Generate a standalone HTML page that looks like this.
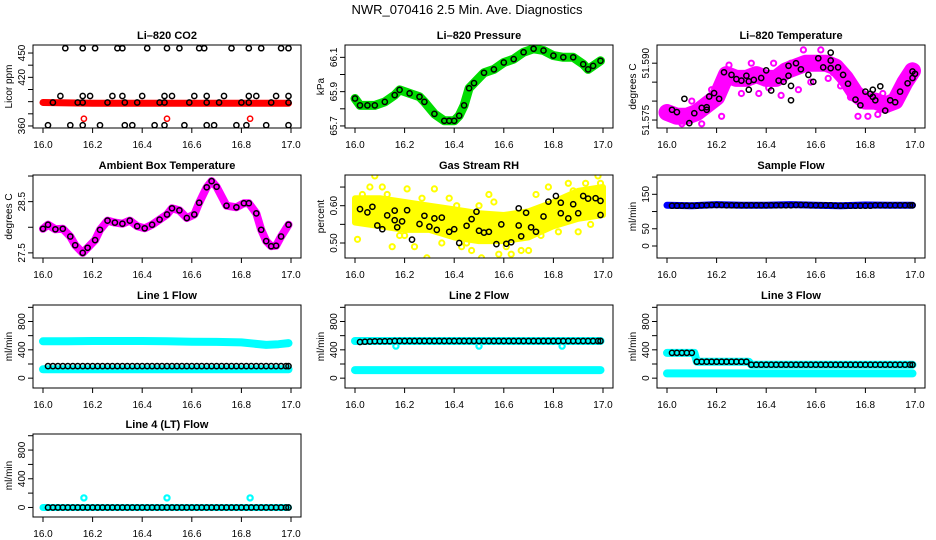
<!DOCTYPE html>
<html><head><meta charset="utf-8">
<style>
html,body{margin:0;padding:0;background:#fff;}
svg{display:block;}
text{font-family:"Liberation Sans",Arial,sans-serif;fill:#000;}
</style></head>
<body>
<svg id="chart" width="936" height="540" viewBox="0 0 936 540" xmlns="http://www.w3.org/2000/svg">
<text x="467" y="14" font-size="13" text-anchor="middle">NWR_070416  2.5 Min. Ave. Diagnostics</text>
</svg>
<script>
// ---------- data ----------
const xTicks = [16.0,16.2,16.4,16.6,16.8,17.0];
const xTickLabels = ["16.0","16.2","16.4","16.6","16.8","17.0"];
const t50 = [16.02,16.04,16.06,16.08,16.10,16.12,16.14,16.16,16.18,16.20,16.22,16.24,16.26,16.28,16.30,16.32,16.34,16.36,16.38,16.40,16.42,16.44,16.46,16.48,16.50,16.52,16.54,16.56,16.58,16.60,16.62,16.64,16.66,16.68,16.70,16.72,16.74,16.76,16.78,16.80,16.82,16.84,16.86,16.88,16.90,16.92,16.94,16.96,16.98,16.99];

// CO2
const co2BandT = [16.0,16.1,16.2,16.3,16.4,16.5,16.6,16.7,16.8,16.9,16.99];
const co2BandV = [389,388.5,388,388,388,388,388,388,388,388,388];
const co2RedT = [16.165,16.50,16.835];
const co2RedV = [369,369,369];
const co2BlkT = [16.09,16.16,16.21,16.30,16.32,16.42,16.50,16.55,16.63,16.65,16.76,16.83,16.88,16.96,16.99,
 16.07,16.16,16.19,16.28,16.32,16.40,16.49,16.52,16.61,16.66,16.73,16.83,16.86,16.94,16.99,
 16.04,16.14,16.16,16.26,16.33,16.38,16.47,16.49,16.59,16.66,16.71,16.80,16.83,16.92,16.99,
 16.02,16.11,16.16,16.23,16.33,16.36,16.45,16.49,16.57,16.66,16.69,16.78,16.82,16.90,16.99];
const co2BlkV = [456,456,456,456,456,456,456,456,456,456,456,456,456,456,456,
 397,397,397,397,397,397,397,397,397,397,397,397,397,397,397,
 389,389,389,389,389,389,389,389,389,389,389,389,389,389,389,
 361,361,361,361,361,361,361,361,361,361,361,361,361,361,361];

// Pressure
const presT = [16.00,16.02,16.05,16.08,16.12,16.16,16.18,16.22,16.26,16.28,16.32,16.36,16.38,16.40,16.42,16.44,16.46,16.48,16.52,16.56,16.60,16.64,16.68,16.72,16.76,16.80,16.84,16.88,16.92,16.94,16.96,16.99];
const presV = [65.86,65.82,65.82,65.82,65.84,65.88,65.91,65.89,65.87,65.84,65.77,65.73,65.73,65.73,65.76,65.82,65.92,65.95,66.01,66.03,66.07,66.09,66.13,66.15,66.14,66.11,66.10,66.10,66.06,66.03,66.05,66.08];

// Li-820 temperature
const ltBandT = [16.00,16.04,16.08,16.12,16.16,16.20,16.24,16.28,16.32,16.36,16.40,16.44,16.48,16.52,16.56,16.60,16.64,16.68,16.72,16.76,16.80,16.84,16.88,16.92,16.96,16.99];
const ltBandV = [51.577,51.576,51.576,51.577,51.579,51.581,51.587,51.586,51.586,51.587,51.586,51.586,51.588,51.589,51.590,51.590,51.590,51.589,51.586,51.582,51.580,51.580,51.579,51.580,51.585,51.588];
const ltMagT = [16.06,16.10,16.14,16.18,16.22,16.25,16.30,16.34,16.37,16.41,16.43,16.46,16.50,16.53,16.55,16.58,16.62,16.65,16.67,16.70,16.74,16.77,16.81,16.85,16.87,16.91,16.95,16.98];
const ltMagV = [51.5740,51.5800,51.5740,51.5830,51.5760,51.5895,51.5820,51.5900,51.5820,51.5835,51.5900,51.5815,51.5900,51.5830,51.5935,51.5850,51.5935,51.5860,51.5875,51.5840,51.5810,51.5760,51.5760,51.5765,51.5820,51.5790,51.5830,51.5860];
const ltBlkT = [16.02,16.04,16.07,16.09,16.11,16.14,16.16,16.16,16.17,16.19,16.21,16.23,16.26,16.28,16.30,16.32,16.33,16.33,16.35,16.38,16.40,16.42,16.45,16.47,16.49,16.49,16.50,16.50,16.52,16.54,16.57,16.59,16.61,16.63,16.66,16.66,16.66,16.69,16.71,16.73,16.76,16.78,16.80,16.82,16.83,16.83,16.84,16.86,16.88,16.90,16.92,16.94,16.97,16.99,16.99,17.00];
const ltBlkV = [51.5777,51.5771,51.5806,51.5742,51.5768,51.5782,51.5777,51.5784,51.5812,51.5821,51.5806,51.5876,51.5869,51.5858,51.5854,51.5867,51.5852,51.5830,51.5856,51.5861,51.5881,51.5828,51.5854,51.5851,51.5867,51.5893,51.5840,51.5802,51.5900,51.5884,51.5869,51.5851,51.5913,51.5889,51.5928,51.5907,51.5887,51.5889,51.5869,51.5846,51.5804,51.5789,51.5825,51.5819,51.5830,51.5811,51.5802,51.5839,51.5775,51.5802,51.5797,51.5825,51.5847,51.5861,51.5878,51.5872];

// Ambient box temperature
const ambT = [16.00,16.02,16.05,16.08,16.11,16.13,16.16,16.18,16.21,16.23,16.26,16.29,16.32,16.35,16.38,16.41,16.44,16.47,16.50,16.52,16.55,16.58,16.61,16.63,16.66,16.68,16.70,16.74,16.78,16.81,16.83,16.86,16.88,16.90,16.92,16.94,16.96,16.99];
const ambV = [27.97,28.05,27.96,27.97,27.82,27.65,27.50,27.60,27.75,27.95,28.13,28.09,28.07,28.13,28.02,27.98,28.05,28.15,28.25,28.37,28.33,28.18,28.25,28.48,28.78,28.90,28.79,28.42,28.39,28.47,28.47,28.27,27.95,27.73,27.63,27.64,27.82,28.05];

// Gas stream RH
const rhBandT = [16.0,16.1,16.2,16.3,16.4,16.5,16.6,16.7,16.8,16.9,17.0];
const rhUpper = [0.62,0.62,0.61,0.60,0.59,0.58,0.575,0.585,0.61,0.64,0.65];
const rhLower = [0.555,0.545,0.535,0.535,0.515,0.505,0.505,0.515,0.545,0.565,0.575];
const rhYelT = [16.01,16.08,16.11,16.21,16.29,16.24,16.32,16.43,16.51,16.54,16.63,16.78,16.86,16.98,16.93,16.06,16.38,16.15,16.47,16.70,16.58,16.90,16.03,16.13,16.18,16.27,16.35,16.41,16.45,16.56,16.61,16.67,16.73,16.82,16.88,16.95,16.99,16.20,16.50,16.75];
const rhYelV = [0.51,0.68,0.65,0.645,0.46,0.49,0.645,0.49,0.46,0.63,0.47,0.65,0.66,0.68,0.66,0.65,0.62,0.49,0.48,0.48,0.47,0.53,0.63,0.63,0.52,0.62,0.50,0.60,0.50,0.61,0.49,0.48,0.63,0.53,0.64,0.55,0.66,0.52,0.60,0.52];
const rhBlkT = [16.02,16.05,16.07,16.09,16.11,16.13,16.16,16.16,16.17,16.19,16.21,16.23,16.26,16.28,16.30,16.32,16.33,16.35,16.38,16.40,16.42,16.45,16.47,16.49,16.50,16.52,16.54,16.57,16.59,16.61,16.63,16.66,16.66,16.67,16.69,16.71,16.73,16.76,16.78,16.81,16.83,16.83,16.86,16.88,16.90,16.92,16.94,16.97,16.99,16.99];
const rhBlkV = [0.591,0.582,0.597,0.547,0.537,0.574,0.587,0.561,0.542,0.558,0.588,0.509,0.551,0.573,0.544,0.566,0.535,0.568,0.530,0.537,0.500,0.546,0.564,0.584,0.533,0.528,0.530,0.497,0.550,0.498,0.502,0.593,0.547,0.518,0.581,0.542,0.530,0.571,0.611,0.626,0.608,0.580,0.566,0.604,0.580,0.626,0.619,0.620,0.613,0.575];

// Sample flow
const sfBandT = [16.0,16.1,16.2,16.3,16.4,16.5,16.6,16.7,16.8,16.9,16.99];
const sfBandV = [118,117,120,118,118,120,118,117,119,118,118];
const sfBlkV = [117,117,117,117,117,117,118,118,119,119,119,118,118,118,118,118,118,118,118,118,118,118,118,118,118,119,119,119,118,118,118,118,118,117,117,117,117,117,117,117,117,118,118,118,118,118,118,118,118,118];

// Line flows
const lfBandT = [16.0,16.1,16.2,16.3,16.4,16.5,16.6,16.7,16.8,16.9,16.95,16.99];
const l1Upper = [520,522,525,525,525,520,515,512,505,470,480,495];
const l1Lower = [125,125,125,125,125,125,125,125,125,125,125,125];
const l1BlkV = [170,170,170,170,170,170,170,170,170,170,170,170,170,170,170,170,170,170,170,170,170,170,170,170,170,170,170,170,170,170,170,170,170,170,170,170,170,170,170,170,170,170,170,170,170,170,170,170,170,170];
const l2Upper = [524,524,524,524,524,524,524,524,524,524,524,524];
const l2Lower = [114,114,114,114,114,114,114,114,114,114,114,114];
const l2DipT = [16.165,16.50,16.835];
const l2DipV = [452,452,452];
const l2BlkV = [510,515,518,520,520,522,522,524,524,524,524,524,524,524,524,524,524,524,524,524,524,524,524,524,524,524,524,524,524,524,524,524,524,524,524,524,524,524,524,524,524,524,524,524,524,524,524,524,524,524];
const l3StepT = [16.0,16.11,16.12,16.33,16.34,16.99];
const l3StepV = [357,357,233,233,190,190];
const l3Lower = [67,67,67,67,67,67,67,67,67,67,67,67];
const l3BlkV = [357,357,357,357,357,233,233,233,233,233,233,233,233,233,233,233,190,190,190,190,190,190,190,190,190,190,190,190,190,190,190,190,190,190,190,190,190,190,190,190,190,190,190,190,190,190,190,190,190,190];
const l4Band = [0,0,0,0,0,0,0,0,0,0,0,0];
const l4OutT = [16.165,16.50,16.835];
const l4OutV = [133,133,133];
const l4BlkV = [0,0,0,0,0,0,0,0,0,0,0,0,0,0,0,0,0,0,0,0,0,0,0,0,0,0,0,0,0,0,0,0,0,0,0,0,0,0,0,0,0,0,0,0,0,0,0,0,0,0];

// ---------- drawing ----------
const NS = "http://www.w3.org/2000/svg";
const svg = document.getElementById('chart');
function mk(tag, attrs, parent){
  const el = document.createElementNS(NS, tag);
  for (const k in attrs) el.setAttribute(k, attrs[k]);
  (parent||svg).appendChild(el);
  return el;
}
const colX = [0,312,624];
const rowY = [0,130,260,389];

function makePanel(col,row,title,ylab,yMin,yMax,yTicks,yLabels,name){
  const cx = colX[col], ry = rowY[row];
  const g = mk('g',{});
  
  
  const L = cx+33, R = cx+301, T = 45+ry, B = 128+ry;
  const p = {g:g,L:L,R:R,T:T,B:B,
    x: v => cx+43 + (v-16)*248,
    y: v => B - (v-yMin)/(yMax-yMin)*(B-T)};
  const clipId = 'clip-'+name;
  const cp = mk('clipPath',{id:clipId},g);
  mk('rect',{x:L,y:T,width:R-L,height:B-T},cp);
  p.plot = mk('g',{'clip-path':'url(#'+clipId+')'},g);
  
  
  const box = mk('rect',{x:L,y:T,width:R-L,height:B-T,fill:'none',stroke:'#000','stroke-width':1},g);
  
  
  const tt = mk('text',{x:(L+R)/2,y:39+ry,'font-size':11,'font-weight':'bold','text-anchor':'middle'},g);
  tt.textContent = title;
  
  
  const xa = mk('g',{},g);
  
  
  mk('line',{x1:p.x(16),x2:p.x(17),y1:B,y2:B,stroke:'#000'},xa);
  xTicks.forEach((v,i)=>{
    mk('line',{x1:p.x(v),x2:p.x(v),y1:B,y2:B+5,stroke:'#000'},xa);
    const tl = mk('text',{x:p.x(v),y:B+20,'font-size':10,'text-anchor':'middle'},xa);
    tl.textContent = xTickLabels[i];
    
    
  });
  const ya = mk('g',{},g);
  
  
  mk('line',{x1:L,x2:L,y1:p.y(yTicks[0]),y2:p.y(yTicks[yTicks.length-1]),stroke:'#000'},ya);
  yTicks.forEach((v,i)=>{
    const yy = p.y(v);
    mk('line',{x1:L-5,x2:L,y1:yy,y2:yy,stroke:'#000'},ya);
    if (yLabels[i]){
      const tl = mk('text',{x:cx+25,y:yy,'font-size':10,'text-anchor':'middle',transform:'rotate(-90 '+(cx+25)+' '+yy+')'},ya);
      tl.textContent = yLabels[i];
      
      
    }
  });
  const yl = mk('text',{x:cx+12,y:(T+B)/2,'font-size':10,'text-anchor':'middle',transform:'rotate(-90 '+(cx+12)+' '+((T+B)/2)+')'},g);
  yl.textContent = ylab;
  
  
  return p;
}
function band(p, ts, vs, color, w, name){
  const pts = ts.map((t,i)=>p.x(t).toFixed(1)+','+p.y(vs[i]).toFixed(1)).join(' ');
  const pl = mk('polyline',{points:pts,fill:'none',stroke:color,'stroke-width':w,'stroke-linejoin':'round','stroke-linecap':'round'},p.plot);
  
  
}
function area(p, ts, up, lo, color, name){
  const a = ts.map((t,i)=>p.x(t).toFixed(1)+','+p.y(up[i]).toFixed(1));
  const b = ts.map((t,i)=>p.x(t).toFixed(1)+','+p.y(lo[i]).toFixed(1)).reverse();
  const pg = mk('polygon',{points:a.concat(b).join(' '),fill:color,stroke:color,'stroke-width':6,'stroke-linejoin':'round'},p.plot);
  
  
}
function pts(p, ts, vs, color, name, sw){
  const g = mk('g',{},p.plot);
  
  
  ts.forEach((t,i)=>{
    const c = mk('circle',{cx:p.x(t).toFixed(1),cy:p.y(vs[i]).toFixed(1),r:2.6,fill:'none',stroke:color,'stroke-width':sw||1.5},g);
    
    
  });
}

let p = makePanel(0,0,'Li\u2013820 CO2','Licor ppm',357.5,459.9,[360,375,390,405,420,435,450],['360','','','','420','','450'],'co2');
band(p, co2BandT, co2BandV, '#ff0000', 7, 'co2-red-band');
pts(p, co2RedT, co2RedV, '#ff0000', 'co2-red-outliers');
pts(p, co2BlkT, co2BlkV, '#000', 'co2-black-points');

p = makePanel(1,0,'Li\u2013820 Pressure','kPa',65.688,66.172,[65.7,65.8,65.9,66.0,66.1],['65.7','','65.9','','66.1'],'pressure');
band(p, presT, presV, '#00dd00', 9, 'pressure-green-band');
pts(p, presT, presV, '#000', 'pressure-black-points');

p = makePanel(2,0,'Li\u2013820 Temperature','degrees C',51.5729,51.5948,[51.575,51.580,51.585,51.590],['51.575','','','51.590'],'li820-temp');
band(p, ltBandT, ltBandV, '#ff00ff', 17, 'li820-temp-magenta-band');
pts(p, ltMagT, ltMagV, '#ff00ff', 'li820-temp-magenta-points', 2);
pts(p, ltBlkT, ltBlkV, '#000', 'li820-temp-black-points');

p = makePanel(0,1,'Ambient Box Temperature','degrees C',27.40,29.02,[27.5,28.0,28.5,29.0],['27.5','','28.5',''],'ambient-temp');
band(p, ambT, ambV, '#ff00ff', 8, 'ambient-magenta-band');
pts(p, ambT, ambV, '#000', 'ambient-black-points');

p = makePanel(1,1,'Gas Stream RH','percent',0.4598,0.6823,[0.50,0.55,0.60,0.65],['0.50','','0.60',''],'rh');
area(p, rhBandT, rhUpper, rhLower, '#ffff00', 'rh-yellow-band');
pts(p, rhYelT, rhYelV, '#ffff00', 'rh-yellow-points', 2);
pts(p, rhBlkT, rhBlkV, '#000', 'rh-black-points');

p = makePanel(2,1,'Sample Flow','ml/min',-34.8,206,[0,50,100,150,200],['0','50','','150',''],'sample-flow');
band(p, sfBandT, sfBandV, '#0000ff', 7, 'sample-flow-blue-band');
pts(p, t50, sfBlkV, '#000', 'sample-flow-black-points');

const flowTicks = [0,200,400,600,800,1000];
const flowLabels = ['0','','400','','800',''];
p = makePanel(0,2,'Line 1 Flow','ml/min',-139,1033,flowTicks,flowLabels,'line1-flow');
band(p, lfBandT, l1Upper, '#00ffff', 8, 'line1-cyan-upper');
band(p, lfBandT, l1Lower, '#00ffff', 8, 'line1-cyan-lower');
pts(p, t50, l1BlkV, '#000', 'line1-black-points');

p = makePanel(1,2,'Line 2 Flow','ml/min',-139,1033,flowTicks,flowLabels,'line2-flow');
band(p, lfBandT, l2Upper, '#00ffff', 8, 'line2-cyan-upper');
band(p, lfBandT, l2Lower, '#00ffff', 8, 'line2-cyan-lower');
pts(p, l2DipT, l2DipV, '#00ffff', 'line2-cyan-dips', 2.2);
pts(p, t50, l2BlkV, '#000', 'line2-black-points');

p = makePanel(2,2,'Line 3 Flow','ml/min',-139,1033,flowTicks,flowLabels,'line3-flow');
band(p, l3StepT, l3StepV, '#00ffff', 8, 'line3-cyan-upper');
band(p, lfBandT, l3Lower, '#00ffff', 8, 'line3-cyan-lower');
pts(p, t50, l3BlkV, '#000', 'line3-black-points');

p = makePanel(0,3,'Line 4 (LT) Flow','ml/min',-133,1024,flowTicks,flowLabels,'line4-flow');
band(p, lfBandT, l4Band, '#00ffff', 7, 'line4-cyan-band');
pts(p, l4OutT, l4OutV, '#00ffff', 'line4-cyan-outliers', 2.2);
pts(p, t50, l4BlkV, '#000', 'line4-black-points');
</script>
</body></html>
